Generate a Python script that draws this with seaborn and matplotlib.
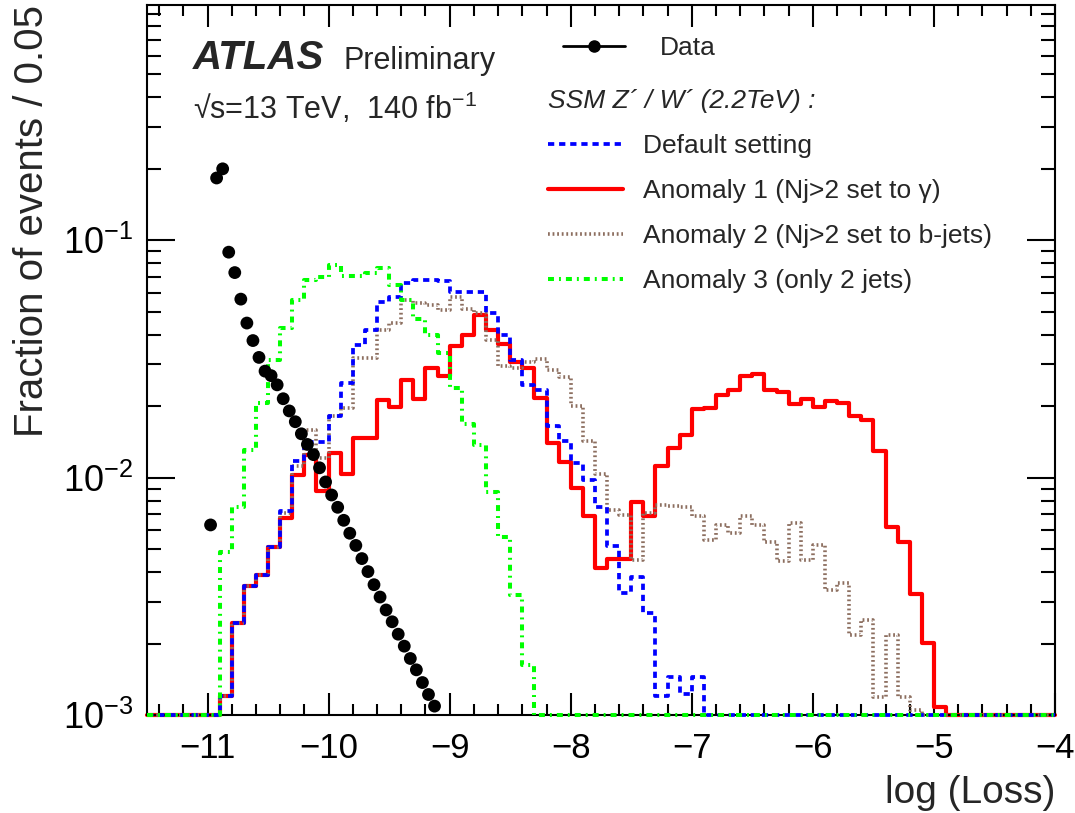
import numpy as np
import pandas as pd
import seaborn as sns
import matplotlib.pyplot as plt
from matplotlib.lines import Line2D
from matplotlib.ticker import MultipleLocator, LogLocator, NullFormatter
from matplotlib.font_manager import FontProperties

# axis ranges
x_min, x_max = -11.5, -4.0
y_min, y_max = 1e-3, 0.98

# signal histograms: fraction of events per bin, first bin starts at -10.9, bins of 0.1
hist_start = -10.9
bin_width = 0.1

default_frac = [0.00120, 0.00243, 0.00350, 0.00389, 0.00509, 0.00724, 0.0117, 0.0141, 0.0141, 0.0182,
                0.0251, 0.0363, 0.0417, 0.0550, 0.0575, 0.0661, 0.0681, 0.0681, 0.0676, 0.0603,
                0.0603, 0.0603, 0.0493, 0.0399, 0.0314, 0.0246, 0.0234, 0.0165, 0.0142, 0.0115,
                0.00977, 0.00755, 0.00515, 0.00326, 0.00380, 0.00269, 0.00120, 0.00145, 0.00123, 0.00145]

anomaly1_frac = [0.00120, 0.00243, 0.00350, 0.00389, 0.00509, 0.00675, 0.0103, 0.0125, 0.00881, 0.0127,
                 0.0104, 0.0147, 0.0147, 0.0212, 0.0199, 0.0258, 0.0214, 0.0289, 0.0269, 0.0360,
                 0.0399, 0.0485, 0.0419, 0.0366, 0.0308, 0.0289, 0.0216, 0.0140, 0.0116, 0.00902,
                 0.00686, 0.00415, 0.00454, 0.00454, 0.00793, 0.00690, 0.0112, 0.0133, 0.0151, 0.0194,
                 0.0196, 0.0223, 0.0233, 0.0269, 0.0274, 0.0233, 0.0229, 0.0204, 0.0215, 0.0199,
                 0.0211, 0.0206, 0.0181, 0.0175, 0.0130, 0.00618, 0.00537, 0.00323, 0.00202, 0.00108]

anomaly2_frac = [0.00120, 0.00243, 0.00350, 0.00389, 0.00509, 0.00708, 0.0112, 0.0158, 0.0121, 0.0181,
                 0.0197, 0.0319, 0.0319, 0.0419, 0.0447, 0.0561, 0.0543, 0.0535, 0.0509, 0.0575,
                 0.0513, 0.0494, 0.0380, 0.0294, 0.0290, 0.0308, 0.0316, 0.0284, 0.0266, 0.0200,
                 0.0142, 0.0104, 0.00731, 0.00697, 0.00450, 0.00708, 0.00767, 0.00759, 0.00755, 0.00686,
                 0.00546, 0.00632, 0.00583, 0.00690, 0.00632, 0.00537, 0.00447, 0.00643, 0.00450, 0.00520,
                 0.00337, 0.00359, 0.00217, 0.00251, 0.00119, 0.00217, 0.00119, 0.00105]

anomaly3_frac = [0.00488, 0.00755, 0.0131, 0.0207, 0.0313, 0.0427, 0.0561, 0.0681, 0.0703, 0.0787,
                 0.0708, 0.0708, 0.0726, 0.0766, 0.0650, 0.0562, 0.0468, 0.0398, 0.0334, 0.0239,
                 0.0169, 0.0137, 0.00873, 0.00564, 0.00321, 0.00163]

# data points, bins of 0.05 starting at -11.0
data_start = -11.0
data_width = 0.05
data_frac = [0.00632, 0.183, 0.200, 0.0891, 0.0731, 0.0565, 0.0448, 0.0378, 0.0321, 0.0281,
             0.0269, 0.0246, 0.0215, 0.0191, 0.0172, 0.0153, 0.0138, 0.0125, 0.0110, 0.00959,
             0.00845, 0.00750, 0.00661, 0.00583, 0.00518, 0.00456, 0.00402, 0.00354, 0.00314, 0.00277,
             0.00247, 0.00219, 0.00195, 0.00173, 0.00155, 0.00137, 0.00122, 0.00109]

labels = ['Default setting', 'Anomaly 1 (Nj>2 set to \u03b3)',
          'Anomaly 2 (Nj>2 set to b-jets)', 'Anomaly 3 (only 2 jets)']

sns.set_style('ticks')
plt.rcParams['font.family'] = ['Liberation Sans', 'DejaVu Sans']
plt.rcParams['mathtext.fontset'] = 'custom'
plt.rcParams['mathtext.rm'] = 'Liberation Sans'
plt.rcParams['mathtext.it'] = 'Liberation Sans:italic'
plt.rcParams['mathtext.bf'] = 'Liberation Sans:bold'
plt.rcParams['lines.scale_dashes'] = False

fig = plt.figure(figsize=(10.75, 8.13), dpi=100)
ax = fig.add_axes([147 / 1075, 98 / 813, 908 / 1075, 710 / 813])
ax.set_yscale('log')

edges = np.round(np.arange(x_min, x_max + bin_width / 2, bin_width), 3)


def full_hist(vals):
    # place bin contents on the full axis range, empty bins drawn at the minimum like ROOT
    out = np.zeros(len(edges))
    i0 = int(round((hist_start - x_min) / bin_width))
    out[i0:i0 + len(vals)] = vals
    out[-1] = out[-2]
    return np.clip(out, y_min, None)


styles = [
    dict(data=default_frac, color='#0000ff', lw=2.7, ls=(0, (4.5, 3.5)), z=4),
    dict(data=anomaly1_frac, color='#ff0000', lw=3.0, ls='-', z=2),
    dict(data=anomaly2_frac, color='#8c6e5f', lw=2.6, ls=(0, (1.3, 2.0)), z=3),
    dict(data=anomaly3_frac, color='#00ff00', lw=2.9, ls=(0, (4.3, 3.6, 1.4, 3.6)), z=5),
]

handles = {}
for lab, st in zip(labels, styles):
    df = pd.DataFrame({'x': edges, 'y': full_hist(st['data'])})
    sns.lineplot(data=df, x='x', y='y', ax=ax, color=st['color'], linewidth=st['lw'],
                 linestyle=st['ls'], drawstyle='steps-post', estimator=None, legend=False,
                 zorder=st['z'], clip_on=False)
    handles[lab] = ax.lines[-1]

data_x = data_start + data_width * (np.arange(len(data_frac)) + 0.5)
sns.scatterplot(x=data_x, y=data_frac, ax=ax, color='black', s=85, edgecolor='none',
                zorder=6, legend=False)

ax.set_xlim(x_min, x_max)
ax.set_ylim(y_min, y_max)

ax.xaxis.set_major_locator(MultipleLocator(1))
ax.xaxis.set_minor_locator(MultipleLocator(0.2))
ax.yaxis.set_major_locator(LogLocator(base=10, numticks=10))
ax.yaxis.set_minor_locator(LogLocator(base=10, subs=np.arange(2, 10), numticks=20))
ax.yaxis.set_minor_formatter(NullFormatter())

ax.tick_params(which='both', direction='in', top=True, right=True, width=1.5, colors='black')
ax.tick_params(axis='x', which='major', length=16, pad=12, labelsize=25)
ax.tick_params(axis='x', which='minor', length=8)
ax.tick_params(axis='y', which='major', length=20, pad=10, labelsize=26)
ax.tick_params(axis='y', which='minor', length=10)
for sp in ax.spines.values():
    sp.set_linewidth(1.5)
    sp.set_color('black')

ax.set_xlabel('log (Loss)', fontsize=28, loc='right')
ax.set_ylabel('Fraction of events / 0.05', fontsize=29, loc='top')
ax.xaxis.set_label_coords(1.0, -0.085)
ax.yaxis.set_label_coords(-0.106, 1.0)

# ATLAS label
ax.text(0.0507, 0.91, 'ATLAS', transform=ax.transAxes, fontsize=29, fontweight='bold',
        fontstyle='italic', va='baseline')
ax.text(0.216, 0.91, 'Preliminary', transform=ax.transAxes, fontsize=22, va='baseline')
ax.text(0.0507, 0.84, '\u221as=13 TeV,  140 fb$^{\\mathregular{-1}}$', transform=ax.transAxes,
        fontsize=22, va='baseline')

# legends
data_handle = Line2D([], [], color='black', marker='o', markersize=8, lw=2)
leg1 = ax.legend([data_handle], ['Data'], loc='upper left', bbox_to_anchor=(563 / 1075, 1 - 36 / 813),
                 bbox_transform=fig.transFigure, frameon=False, fontsize=19, borderpad=0,
                 borderaxespad=0, handlelength=2.35, handletextpad=1.33)
ax.add_artist(leg1)
leg2 = ax.legend([handles[l] for l in labels], labels, loc='upper left',
                 bbox_to_anchor=(548 / 1075, 1 - 89 / 813), bbox_transform=fig.transFigure,
                 frameon=False, fontsize=19, borderpad=0, borderaxespad=0, handlelength=2.84,
                 handletextpad=0.76, labelspacing=0.8, alignment='left',
                 title='SSM Z\u00b4 / W\u00b4 (2.2TeV) :',
                 title_fontproperties=FontProperties(family='Liberation Sans', style='italic', size=19))

fig.savefig('out.png', dpi=100)
